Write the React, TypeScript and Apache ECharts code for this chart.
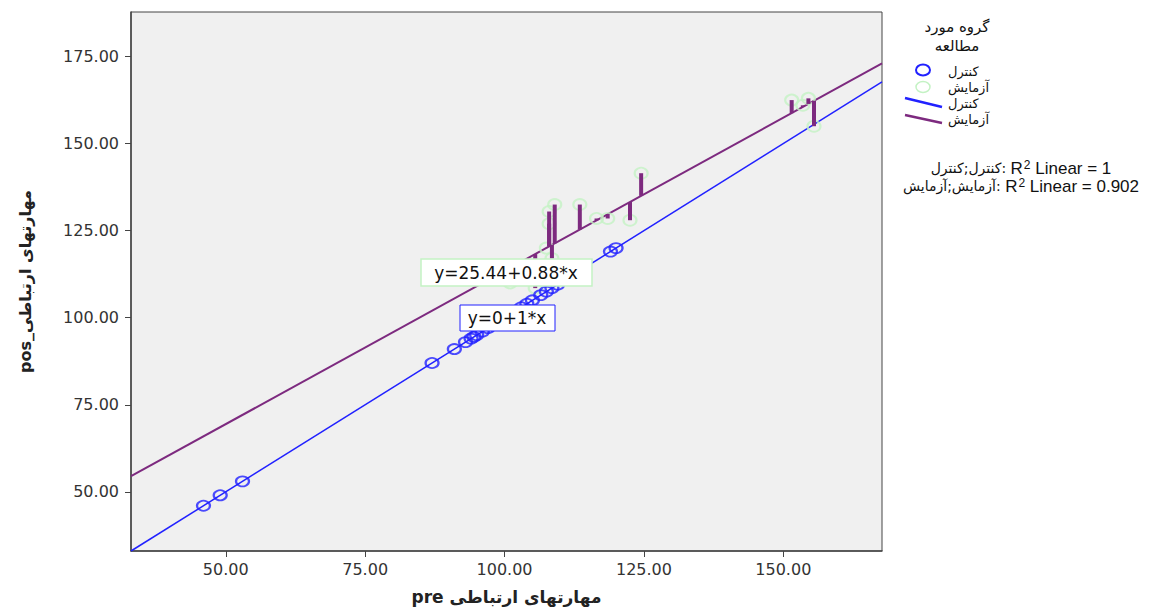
import React, { useEffect, useRef } from "react";
import * as echarts from "echarts";

// Control group (blue): all on y = x
const controlPre = [46, 49, 53, 87, 91, 93, 94, 94.5, 95, 96, 97, 98, 103, 104, 105, 106.5, 107.5, 108.5, 109.5, 119, 120];
const controlPos = [46, 49, 53, 87, 91, 93, 94, 94.5, 95, 96, 97, 98, 103, 104, 105, 106.5, 107.5, 108.5, 109.5, 119, 120];

// Experiment group (green circles with spikes to fit line)
const expPre = [101, 105.5, 107.5, 108, 108, 108.5, 109, 113.5, 116.5, 118.5, 122.5, 124.5, 151.5, 153.5, 154.5, 155.5];
const expPos = [110, 108.5, 120, 130.5, 127, 117, 132.5, 132.5, 128.5, 128.5, 128, 141.5, 162.5, 161, 163, 155];

const fitControl = { a: 0, b: 1 };
const fitExp = { a: 25.44, b: 0.88 };

const xTicks = [50, 75, 100, 125, 150];
const yTicks = [50, 75, 100, 125, 150, 175];
const xMin = 33;
const xMax = 167.7;
const yMin = 33;
const yMax = 187.8;

const groupTitle = ["گروه مورد", "مطالعه"];
const groupNames = ["کنترل", "آزمایش"];
const r2Prefix = ["کنترل;کنترل:", "آزمایش;آزمایش:"];
const r2Values = ["1", "0.902"];
const eqLabels = ["y=25.44+0.88*x", "y=0+1*x"];

const BLUE = "#2121ff";
const PURPLE = "#7d2a7f";
const GREEN = "#c4f2c4";
const FONT = "DejaVu Sans, Liberation Sans, sans-serif";
const AFONT = "Liberation Sans, DejaVu Sans, sans-serif";

export default function App() {
  const ref = useRef<HTMLDivElement>(null);
  useEffect(() => {
    if (!ref.current) return;
    const chart = echarts.init(ref.current, null, { renderer: "svg" });
    const fitLine = (f: { a: number; b: number }) => [
      [xMin, f.a + f.b * xMin],
      [xMax, f.a + f.b * xMax],
    ];
    const spikeData = expPre.map((x, i) => [x, expPos[i], fitExp.a + fitExp.b * x]);
    const txt = (x: number, y: number, t: string, opts: any = {}) => ({
      type: "text",
      x,
      y,
      style: {
        text: t,
        font: `${opts.size || 14}px ${opts.family || FONT}`,
        fill: opts.fill || "#111",
        textAlign: opts.align || "left",
        textVerticalAlign: "middle",
      },
      z: 100,
    });
    const r2Text = (y: number, i: number) => ({
      type: "text",
      x: 1021,
      y,
      style: {
        text: `{p|${r2Prefix[i]} }{r|R}{s|2}{r| Linear = ${r2Values[i]}}`,
        textAlign: "center",
        textVerticalAlign: "middle",
        rich: {
          p: { font: `14px ${FONT}`, fill: "#111" },
          r: { font: `17px ${AFONT}`, fill: "#111" },
          s: { font: `12px ${AFONT}`, fill: "#111", verticalAlign: "top", padding: [0, 0, 6, 1] },
        },
      },
      z: 100,
    });
    chart.setOption({
      animation: false,
      backgroundColor: "#ffffff",
      grid: {
        left: 131,
        right: 280,
        top: 12,
        bottom: 59,
        show: true,
        backgroundColor: "#f0f0f0",
        borderColor: "#444",
        borderWidth: 1,
      },
      xAxis: {
        type: "value",
        min: xMin,
        max: xMax,
        name: "pre مهارتهای ارتباطی",
        nameLocation: "middle",
        nameGap: 37,
        nameTextStyle: { fontFamily: FONT, fontWeight: "bold", fontSize: 17, color: "#222" },
        axisLine: { show: true, lineStyle: { color: "#444", width: 1.5 } },
        axisTick: { show: true, customValues: xTicks, length: 6, lineStyle: { color: "#444" } },
        axisLabel: {
          customValues: xTicks,
          formatter: (v: number) => v.toFixed(2),
          fontFamily: FONT,
          fontSize: 16,
          color: "#333",
          margin: 10,
        },
        splitLine: { show: false },
      },
      yAxis: {
        type: "value",
        min: yMin,
        max: yMax,
        name: "pos_مهارتهای ارتباطی",
        nameLocation: "middle",
        nameGap: 98,
        nameRotate: 90,
        nameTextStyle: { fontFamily: FONT, fontWeight: "bold", fontSize: 16, color: "#222" },
        axisLine: { show: true, lineStyle: { color: "#444", width: 1.5 } },
        axisTick: { show: true, customValues: yTicks, length: 6, lineStyle: { color: "#444" } },
        axisLabel: {
          customValues: yTicks,
          formatter: (v: number) => v.toFixed(2),
          fontFamily: FONT,
          fontSize: 16,
          color: "#333",
          margin: 12,
        },
        splitLine: { show: false },
      },
      series: [
        {
          type: "line",
          data: fitLine(fitControl),
          symbol: "none",
          lineStyle: { color: BLUE, width: 1.5 },
          z: 3,
        },
        {
          type: "line",
          data: fitLine(fitExp),
          symbol: "none",
          lineStyle: { color: PURPLE, width: 2 },
          z: 3,
        },
        {
          type: "scatter",
          data: expPre.map((x, i) => [x, expPos[i]]),
          symbol: "circle",
          symbolSize: [13, 11],
          itemStyle: { color: "transparent", borderColor: GREEN, borderWidth: 2 },
          z: 4,
        },
        {
          type: "custom",
          data: spikeData,
          z: 5,
          renderItem: (params: any, api: any) => {
            const p1 = api.coord([api.value(0), api.value(1)]);
            const p2 = api.coord([api.value(0), api.value(2)]);
            return {
              type: "line",
              shape: { x1: p1[0], y1: p1[1], x2: p2[0], y2: p2[1] },
              style: { stroke: PURPLE, lineWidth: 4 },
            };
          },
        },
        {
          type: "scatter",
          data: controlPre.map((x, i) => [x, controlPos[i]]),
          symbol: "circle",
          symbolSize: [13, 10],
          itemStyle: { color: "transparent", borderColor: BLUE, borderWidth: 2 },
          z: 6,
        },
      ],
      graphic: [
        // equation labels
        {
          type: "rect",
          shape: { x: 421, y: 259, width: 171, height: 27 },
          style: { fill: "#ffffff", stroke: GREEN, lineWidth: 1.5 },
          z: 90,
        },
        txt(506, 273, eqLabels[0], { size: 17, align: "center" }),
        {
          type: "rect",
          shape: { x: 460, y: 305, width: 95, height: 26 },
          style: { fill: "#ffffff", stroke: BLUE, lineWidth: 1 },
          z: 90,
        },
        txt(507, 318, eqLabels[1], { size: 17, align: "center" }),
        // legend
        txt(957, 27, groupTitle[0], { size: 15, align: "center" }),
        txt(957, 46, groupTitle[1], { size: 15, align: "center" }),
        {
          type: "ellipse",
          shape: { cx: 923, cy: 70, rx: 7, ry: 5.5 },
          style: { fill: "none", stroke: BLUE, lineWidth: 2 },
          z: 100,
        },
        txt(948, 71, groupNames[0], { size: 13 }),
        {
          type: "ellipse",
          shape: { cx: 923, cy: 87, rx: 7, ry: 5.5 },
          style: { fill: "none", stroke: GREEN, lineWidth: 1.5 },
          z: 100,
        },
        txt(948, 87, groupNames[1], { size: 13 }),
        {
          type: "line",
          shape: { x1: 905, y1: 98, x2: 942, y2: 107 },
          style: { stroke: BLUE, lineWidth: 2.5 },
          z: 100,
        },
        txt(948, 103, groupNames[0], { size: 13 }),
        {
          type: "line",
          shape: { x1: 905, y1: 115, x2: 942, y2: 123 },
          style: { stroke: PURPLE, lineWidth: 2.5 },
          z: 100,
        },
        txt(948, 119, groupNames[1], { size: 13 }),
        r2Text(168, 0),
        r2Text(186, 1),
      ],
    });
    return () => chart.dispose();
  }, []);
  return (
    <div
      ref={ref}
      style={{ position: "fixed", left: 0, top: 0, width: 1162, height: 610 }}
    />
  );
}
